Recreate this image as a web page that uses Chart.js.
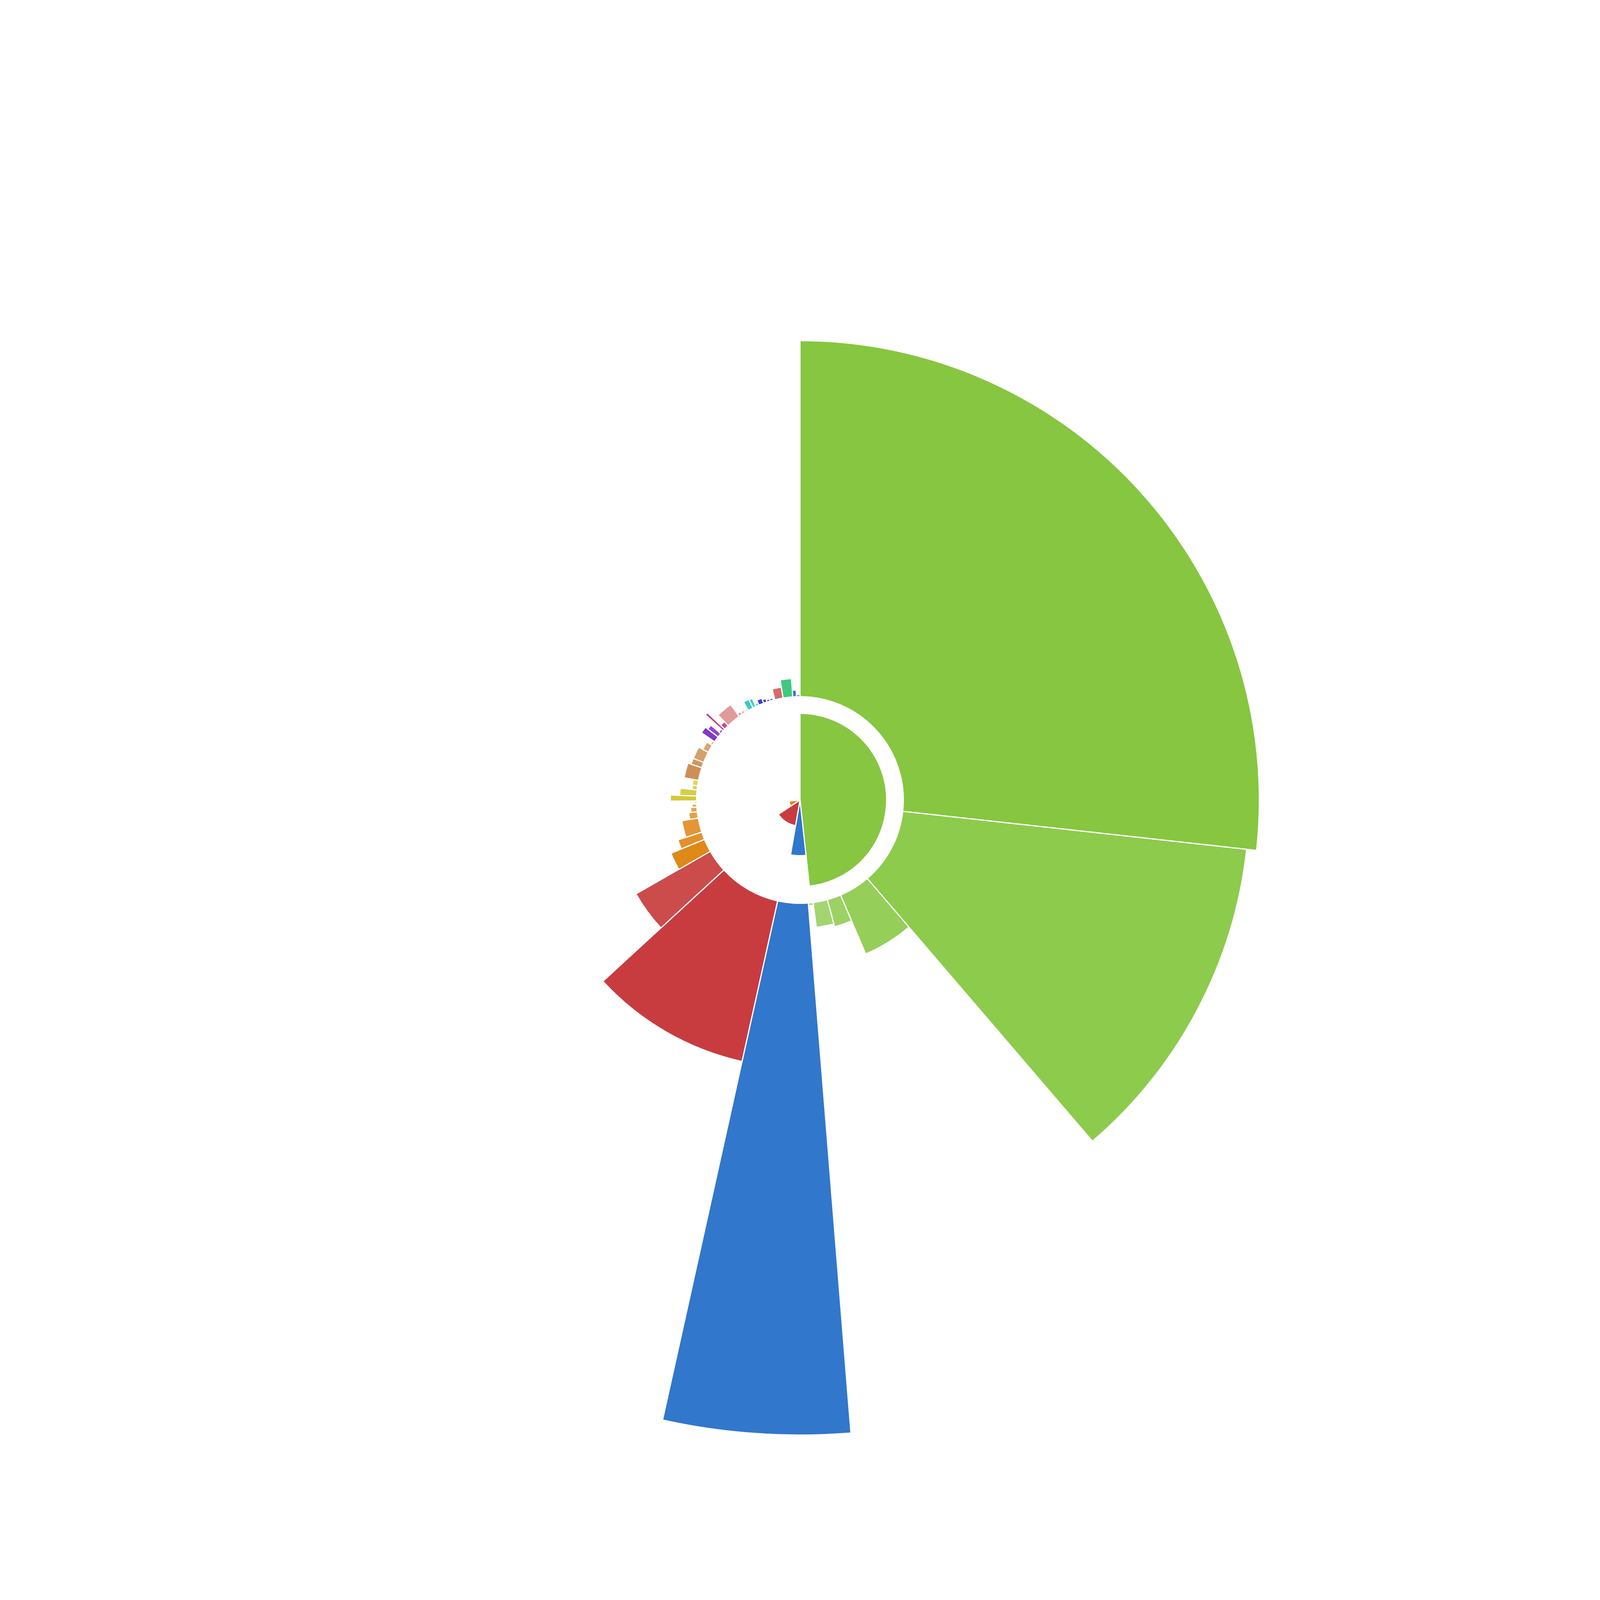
<!DOCTYPE html>
<html>
<head>
<meta charset="utf-8">
<title>Radial breakdown</title>
<script src="https://cdn.jsdelivr.net/npm/chart.js@4.4.1/dist/chart.umd.min.js"></script>
<style>
    html, body { margin: 0; padding: 0; background: #ffffff; overflow: hidden; }
    #wrap { width: 100vw; height: 100vh; position: relative; }
</style>
</head>
<body>
<div id="wrap"><canvas id="mainChart"></canvas></div>
<script>
// --- Data: inner ring (one slice per group) ---
const groupLabels = ['Green', 'Blue', 'Red', 'Orange', 'Yellow', 'Tan', 'Purple', 'Magenta', 'Pink', 'Teal', 'Indigo', 'Salmon', 'Jade', 'Azure'];
const groupAngles = [173.8, 16.0, 46.7, 27.7, 11.2, 23.0, 7.6, 3.9, 13.8, 6.5, 9.2, 4.6, 5.3, 3.9];
const groupValues = [10.83, 6.96, 3.25, 1.38, 0.12, 0.58, 0.06, 0.04, 0.1, 0.05, 0.06, 0.05, 0.08, 0.04];

// --- Data: outer ring (one bar per item, grouped by colour family) ---
const itemLabels = [
    'Green 1', 'Green 2', 'Green 3', 'Green 4', 'Green 5', 'Green 6',
    'Blue 1',
    'Red 1', 'Red 2',
    'Orange 1', 'Orange 2', 'Orange 3', 'Orange 4', 'Orange 5', 'Orange 6', 'Orange 7',
    'Yellow 1', 'Yellow 2', 'Yellow 3', 'Yellow 4',
    'Tan 1', 'Tan 2', 'Tan 3', 'Tan 4', 'Tan 5',
    'Purple 1', 'Purple 2', 'Purple 3',
    'Magenta 1', 'Magenta 2',
    'Pink 1', 'Pink 2', 'Pink 3', 'Pink 4',
    'Teal 1', 'Teal 2', 'Teal 3',
    'Indigo 1', 'Indigo 2', 'Indigo 3', 'Indigo 4', 'Indigo 5',
    'Salmon 1',
    'Jade 1',
    'Azure 1', 'Azure 2'
];
const itemAngles = [
    96.3, 43.1, 17.5, 7.8, 8.0, 2.7,
    17.1,
    34.9, 12.8,
    7.4, 4.3, 8.1, 3.5, 2.6, 1.7, 1.7,
    2.7, 3.4, 2.3, 3.0,
    7.3, 3.1, 6.2, 4.4, 2.4,
    3.3, 2.4, 2.0,
    1.3, 2.7,
    8.0, 2.0, 2.0, 2.0,
    3.0, 1.8, 1.8,
    2.8, 2.0, 1.8, 1.8, 0.9,
    4.7,
    5.4,
    2.0, 2.0
];
const itemValues = [
    44.5, 43.25, 8.0, 3.5, 3.13, 0.33,
    66.46,
    20.56, 10.71,
    4.54, 3.13, 2.08, 1.08, 0.79, 0.58, 0.21,
    3.29, 2.13, 0.63, 0.67,
    1.83, 1.42, 1.38, 0.79, 0.25,
    2.0, 1.63, 0.33,
    3.0, 0.71,
    1.83, 0.42, 0.33, 0.21,
    1.21, 1.13, 0.33,
    0.67, 0.46, 0.29, 0.29, 0.17,
    1.38,
    2.29,
    0.83, 0.25
];

// --- Styles ---
const groupColors = ['#86c640', '#3177cb', '#c83c40', '#e08818', '#d4ca36', '#cf8e55', '#8038c8', '#c43c80', '#e09a9a', '#3ec8c8', '#3c3cc8', '#d46b6b', '#40c880', '#3478c8'];
const itemColors = [
    '#86c640', '#8ccb4b', '#95ce59', '#9bd263', '#a2d56f', '#a8d879',
    '#3177cb',
    '#c83c40', '#cc4b4b',
    '#e08818', '#e3902c', '#e49536', '#e69f47', '#e8a555', '#e9aa5f', '#ebaf68',
    '#d4ca36', '#d7ce45', '#dad352', '#dcd55b',
    '#cf8e55', '#d29660', '#d5a06b', '#d8a673', '#dbac7c',
    '#8038c8', '#8c48cc', '#9858d0',
    '#c43c80', '#cc4a8a',
    '#e09a9a', '#e4a4a4', '#e6aaaa', '#e8b0b0',
    '#3ec8c8', '#48cbcb', '#55cfcf',
    '#3c3cc8', '#4444cc', '#4f4fce', '#5a5ad2', '#6666d6',
    '#d46b6b',
    '#40c880',
    '#3478c8', '#3f80cc'
];
const RING_BASE = 12.92;   // outer bars start here (in scale units)
const SCALE_MAX = 100;

// --- Polar area variant whose bars can start from a ring ---
const BasePolar = Chart.PolarAreaController || Chart.registry.getController('polarArea');
class RingAreaController extends BasePolar {
    updateElement(element, index, properties, mode) {
        const base = this.getDataset().ringBase;
        if (base && properties) {
            const scale = this._cachedMeta.rScale;
            const inner = scale.getDistanceFromCenterForValue(base);
            properties.innerRadius = inner;
            properties.outerRadius = properties.outerRadius + inner;
        }
        super.updateElement(element, index, properties, mode);
    }
}
RingAreaController.id = 'ringArea';
RingAreaController.defaults = BasePolar.defaults;
RingAreaController.overrides = BasePolar.overrides;
Chart.register(RingAreaController);

// --- Chart ---
const ctx = document.getElementById('mainChart').getContext('2d');
const mainChart = new Chart(ctx, {
    type: 'ringArea',
    data: {
        labels: itemLabels,
        datasets: [
            {
                label: 'Groups',
                data: groupValues,
                angle: c => groupAngles[c.dataIndex],
                backgroundColor: groupColors,
                borderColor: '#ffffff',
                borderWidth: 3
            },
            {
                label: 'Items',
                data: itemValues,
                ringBase: RING_BASE,
                angle: c => itemAngles[c.dataIndex],
                backgroundColor: itemColors,
                borderColor: '#ffffff',
                borderWidth: 3
            }
        ]
    },
    options: {
        responsive: true,
        maintainAspectRatio: false,
        animation: false,
        layout: { padding: 0 },
        plugins: {
            legend: { display: false },
            tooltip: { enabled: false }
        },
        scales: {
            r: { display: false, min: 0, max: SCALE_MAX, startAngle: 0 }
        }
    }
});
</script>
</body>
</html>
